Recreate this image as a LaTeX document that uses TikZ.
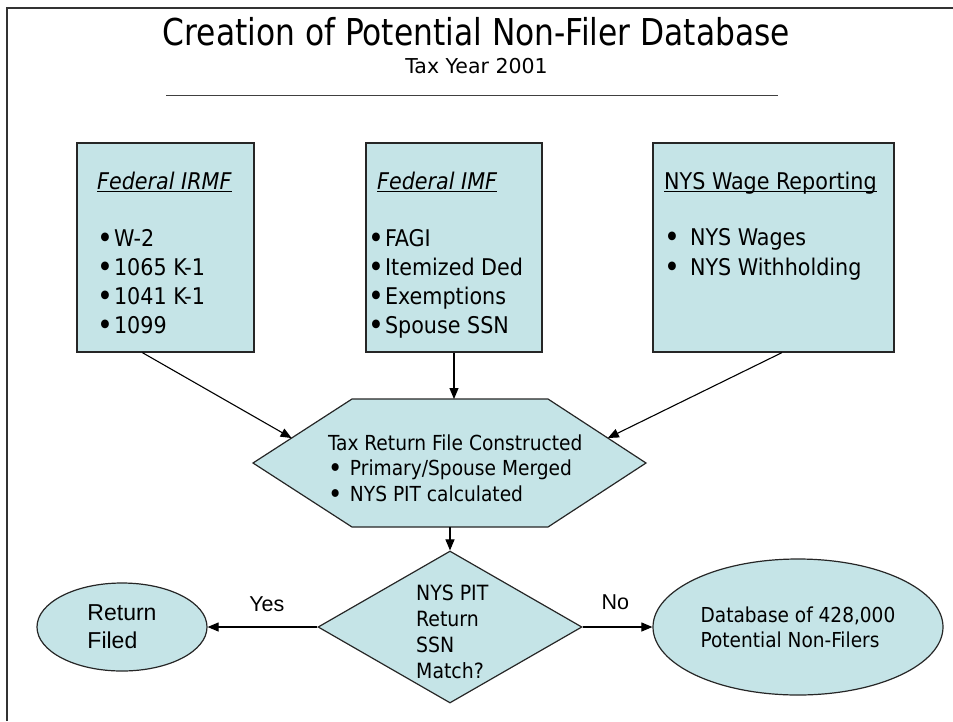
\documentclass[tikz,border=0pt]{standalone}
\usepackage{fontspec}
\usepackage{graphicx}
\setmainfont{DejaVu Sans Condensed}
\newfontfamily\widefont{DejaVu Sans}
\newfontfamily\arialfont{Liberation Sans}
\usetikzlibrary{arrows.meta, positioning, shapes.geometric, calc}

\definecolor{boxfill}{RGB}{197,228,231}
\newcommand{\hdrline}[1]{\setbox0=\hbox{#1}\makebox[0pt][l]{\rule[-2.5pt]{\wd0}{1.2pt}}\box0}
\newcommand{\dotb}{\raisebox{-0.1em}{\scalebox{1.3}{\textbullet}}}
\newcommand{\itm}[2][1pt]{\dotb\hspace{#1}#2}

\tikzset{
  srcbox/.style={draw=black!85, line width=1.2pt, fill=boxfill, minimum height=209pt, inner sep=0pt},
  srctext/.style={anchor=north west, align=left, inner sep=0pt, font=\fontsize{23}{29}\selectfont},
  arr/.style={-{Triangle[length=11pt,width=9pt]}, line width=1.1pt},
  lbl/.style={font=\arialfont\fontsize{21.5}{25}\selectfont, inner sep=0pt},
}

\begin{document}
\begin{tikzpicture}[x=1pt, y=-1pt]
\useasboundingbox (0,0) rectangle (953,721);
% frame and title
\draw[line width=1.5pt, black!80] (7,721) -- (7,8) -- (953,8);
\node[anchor=base, font=\fontsize{37}{44}\selectfont] (title) at (476.5,45)
  {\scalebox{0.94}[1]{Creation of Potential Non-Filer Database}};
\node[anchor=base, font=\widefont\fontsize{20.5}{24}\selectfont] (year) at (476.5,73) {Tax Year 2001};
\draw[line width=1pt, black!75] (166,95) -- (778,95);

% data sources
\node[srcbox, minimum width=177pt] (irmf) at (165.5,247.5) {};
\node[srcbox, minimum width=176pt] (imf) at (454,247.5) {};
\node[srcbox, minimum width=241pt] (wage) at (773.5,247.5) {};
\node[srctext] (irmftxt) at (97,168.7) {\strut\hdrline{\textit{Federal IRMF}}\\[28pt]
  \itm{W-2}\\ \itm{1065 K-1}\\ \itm{1041 K-1}\\ \itm{1099}};
\node[srctext] (imftxt) at (368,168.7) {\strut\hspace{9pt}\hdrline{\textit{Federal IMF}}\\[28pt]
  \itm{FAGI}\\ \itm{Itemized Ded}\\ \itm{Exemptions}\\ \itm{Spouse SSN}};
\node[srctext] (wagetxt) at (664,168.7) {\strut\hdrline{NYS Wage Reporting}\\[27pt]
  \itm[10pt]{NYS Wages}\\[1pt] \itm[10pt]{NYS Withholding}};

% merged file
\coordinate (hexL) at (253,463);
\coordinate (hexTL) at (352,399);
\coordinate (hexTR) at (548,399);
\coordinate (hexR) at (646,463);
\coordinate (hexBR) at (548,527);
\coordinate (hexBL) at (352,527);
\draw[fill=boxfill, line width=1.2pt, draw=black!85] (hexL) -- (hexTL) -- (hexTR) -- (hexR) -- (hexBR) -- (hexBL) -- cycle;
\node[anchor=north west, align=left, inner sep=0pt, font=\fontsize{20.7}{25.5}\selectfont] (build) at (328,432.2)
  {\strut Tax Return File Constructed\\ \itm[7.5pt]{Primary/Spouse Merged}\\ \itm[7.5pt]{NYS PIT calculated}};

% match test and results
\node[diamond, draw=black!85, line width=1.2pt, fill=boxfill, minimum width=264pt, minimum height=152pt,
  inner sep=0pt] (match) at (450,627) {};
\node[anchor=north west, align=left, inner sep=0pt, font=\fontsize{21}{26}\selectfont] (matchtxt) at (416,581.8)
  {\strut NYS PIT\\Return\\SSN\\Match?};
\node[ellipse, draw=black!85, line width=1.2pt, fill=boxfill, minimum width=170pt, minimum height=88pt,
  align=left, font=\arialfont\fontsize{23}{28}\selectfont] (filed) at (122,627) {Return\\Filed};
\node[ellipse, draw=black!85, line width=1.2pt, fill=boxfill, minimum width=290pt, minimum height=136pt,
  align=left, font=\fontsize{20.6}{25}\selectfont] (db) at (798,627) {Database of 428,000\\Potential Non-Filers};

% connectors
\draw[arr] ($(irmf.south west)!0.37!(irmf.south east)$) -- ($(hexL)!0.39!(hexTL)$);
\draw[arr] (imf.south) -- (imf.south |- hexTL);
\draw[arr] ($(wage.south west)!0.535!(wage.south east)$) -- ($(hexTR)!0.61!(hexR)$);
\draw[arr] ($(hexBL)!0.5!(hexBR)$) -- (match.north);
\draw[arr] (match.west) -- node[lbl, pos=0.46, above=15pt] {Yes} (filed.east);
\draw[arr] (match.east) -- node[lbl, pos=0.47, above=17pt] {No} (db.west);
\end{tikzpicture}
\end{document}
